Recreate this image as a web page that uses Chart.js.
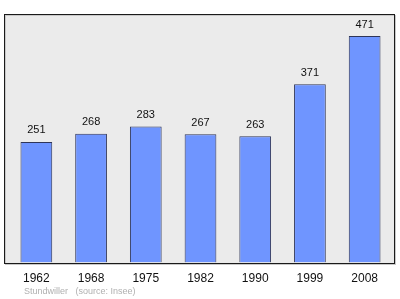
<!DOCTYPE html>
<html>
<head>
<meta charset="utf-8">
<script src="https://cdn.jsdelivr.net/npm/chart.js@4/dist/chart.umd.min.js"></script>
<style>
  html, body { margin: 0; padding: 0; background: #fff; }
  #wrap { position: relative; width: 400px; height: 299px; }
  #source {
    position: absolute; left: 24px; top: 286px;
    font: 9px "Liberation Sans", Arial, sans-serif; color: #b0b0b0;
    white-space: pre; line-height: 11px;
  }
</style>
</head>
<body>
<div id="wrap">
  <canvas id="chart" width="400" height="299"></canvas>
  <div id="source">Stundwiller   (source: Insee)</div>
</div>
<script>
const years = ["1962", "1968", "1975", "1982", "1990", "1999", "2008"];
const population = [251, 268, 283, 267, 263, 371, 471];
const yMax = 517;

// light grey box with a dark frame, a few px wider than the bar slots
const framePlugin = {
  id: "frame",
  beforeDraw(chart) {
    const { ctx, chartArea: a } = chart;
    const x0 = Math.round(a.left) - 5 + 0.5;
    const x1 = Math.round(a.right) + 3 - 0.5;
    const y0 = Math.round(a.top) + 0.5;
    const y1 = Math.round(a.bottom) + 0.5;
    ctx.save();
    ctx.fillStyle = "#ebebeb";
    ctx.fillRect(x0, y0, x1 - x0, y1 - y0);
    ctx.strokeStyle = "#c8c8c8";
    ctx.lineWidth = 1;
    ctx.strokeRect(x0 + 1, y0 + 1, x1 - x0, y1 - y0);
    ctx.strokeStyle = "#1a1a1a";
    ctx.strokeRect(x0, y0, x1 - x0, y1 - y0);
    ctx.restore();
  }
};

// value above each bar
const valueLabels = {
  id: "valueLabels",
  afterDatasetsDraw(chart) {
    const { ctx } = chart;
    const meta = chart.getDatasetMeta(0);
    ctx.save();
    ctx.font = "11px 'Liberation Sans', Arial, sans-serif";
    ctx.fillStyle = "#111";
    ctx.textAlign = "center";
    ctx.textBaseline = "middle";
    meta.data.forEach((bar, i) => {
      ctx.fillText(String(population[i]), bar.x, bar.y - 11.5);
    });
    ctx.restore();
  }
};

new Chart(document.getElementById("chart"), {
  type: "bar",
  data: {
    labels: years,
    datasets: [{
      data: population,
      backgroundColor: "#6f95ff",
      borderColor: "#2e3558",
      borderWidth: 1,
      categoryPercentage: 1,
      barPercentage: 0.58
    }]
  },
  options: {
    responsive: false,
    animation: false,
    layout: { padding: { left: 9, right: 8, top: 14, bottom: 12 } },
    plugins: {
      legend: { display: false },
      tooltip: { enabled: false }
    },
    scales: {
      x: {
        grid: { display: false },
        border: { display: false },
        ticks: {
          color: "#111",
          padding: 1,
          font: { family: "'Liberation Sans', Arial, sans-serif", size: 12 }
        }
      },
      y: {
        display: false,
        min: 0,
        max: yMax
      }
    }
  },
  plugins: [framePlugin, valueLabels]
});
</script>
</body>
</html>
